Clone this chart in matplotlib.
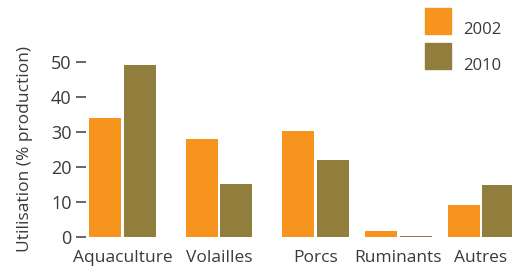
import matplotlib
matplotlib.use("Agg")
import matplotlib.pyplot as plt
from matplotlib.patches import Rectangle

categories = ["Aquaculture", "Volailles", "Porcs", "Ruminants", "Autres"]
series_labels = ["2002", "2010"]
values_2002 = [34, 28, 30.3, 1.7, 9.1]
values_2010 = [49, 15.1, 22, 0.4, 15]
yticks = [0, 10, 20, 30, 40, 50]

plt.rcParams['font.family'] = ['Open Sans', 'DejaVu Sans']
text_color = '#3a3a3a'
c2002 = '#F7941D'
c2010 = '#917D3C'

W, H = 512, 266
fig = plt.figure(figsize=(W/100, H/100), dpi=100)
ax = fig.add_axes([86/W, 29/H, (512-86)/W, (237-62)/H])

group_x = [0, 1, 2, 2.86, 3.715]
bw = 0.332
off = 0.181
ax.bar([g - off for g in group_x], values_2002, width=bw, color=c2002, label=series_labels[0])
ax.bar([g + off for g in group_x], values_2010, width=bw, color=c2010, label=series_labels[1])

ax.set_xlim((86-122.5)/96.5, (512-122.5)/96.5)
ax.set_ylim(0, 50)
ax.set_yticks(yticks)
ax.set_yticklabels([str(t) for t in yticks])
ax.set_xticks(group_x)
ax.set_xticklabels(categories)
for s in ax.spines.values():
    s.set_visible(False)
ax.tick_params(axis='y', length=7.5, width=1.1, color=text_color, pad=3,
               labelsize=13, labelcolor=text_color)
ax.tick_params(axis='x', length=0, pad=9, labelsize=12.5, labelcolor=text_color)
ax.set_ylabel("Utilisation (% production)", fontsize=12.5, color=text_color, labelpad=13)

# legend
fig.patches.append(Rectangle((425/W, 1-34/H), 26/W, 26/H, transform=fig.transFigure, color=c2002))
fig.patches.append(Rectangle((425/W, 1-69/H), 26/W, 26/H, transform=fig.transFigure, color=c2010))
fig.text(463/W, 1-34/H, series_labels[0], fontsize=12, color=text_color, va='baseline')
fig.text(463/W, 1-70/H, series_labels[1], fontsize=12, color=text_color, va='baseline')

fig.savefig("out.png", dpi=100)
